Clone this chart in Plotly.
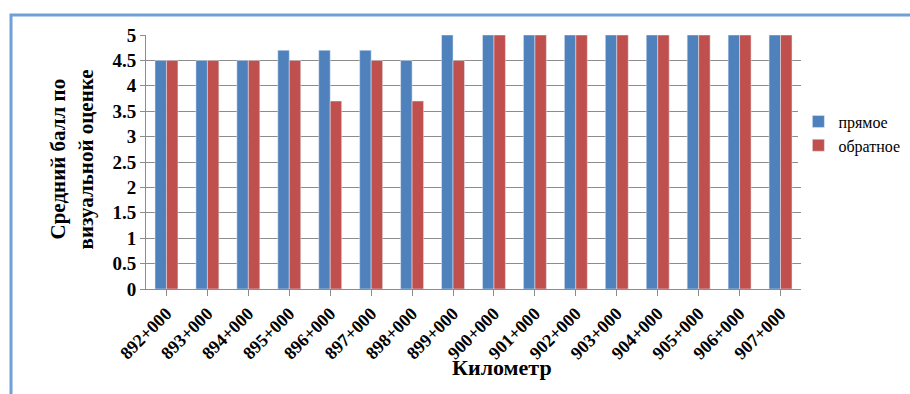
import plotly.graph_objects as go

# Километры участка и средние баллы визуальной оценки по направлениям
km = ["892+000", "893+000", "894+000", "895+000", "896+000", "897+000",
      "898+000", "899+000", "900+000", "901+000", "902+000", "903+000",
      "904+000", "905+000", "906+000", "907+000"]
forward = [4.5, 4.5, 4.5, 4.7, 4.7, 4.7, 4.5, 5, 5, 5, 5, 5, 5, 5, 5, 5]
backward = [4.5, 4.5, 4.5, 4.5, 3.7, 4.5, 3.7, 4.5, 5, 5, 5, 5, 5, 5, 5, 5]
y_ticks = [0, 0.5, 1, 1.5, 2, 2.5, 3, 3.5, 4, 4.5, 5]

FONT = "Times New Roman"
GRID = "#8c8c8c"

fig = go.Figure()
fig.add_trace(go.Bar(x=km, y=forward, name="прямое", marker_color="#4f81bd"))
fig.add_trace(go.Bar(x=km, y=backward, name="обратное", marker_color="#c0504d"))

fig.update_layout(
    width=910, height=394,
    font=dict(family=FONT, color="black"),
    margin=dict(l=146, r=109, t=35, b=105, autoexpand=False),
    paper_bgcolor="white", plot_bgcolor="white",
    barmode="group", bargap=0.44,
    legend=dict(x=0.996, xanchor="left", y=0.612, yanchor="middle",
                font=dict(size=16, family=FONT, color="black")),
    xaxis=dict(
        tickangle=-45, ticks="outside", ticklen=6, tickcolor=GRID,
        showline=True, linecolor=GRID, showgrid=False,
        tickfont=dict(size=18, family=FONT, weight="bold"),
    ),
    yaxis=dict(
        range=[0, 5], tickvals=y_ticks,
        ticks="outside", ticklen=5, tickcolor=GRID,
        showline=True, linecolor=GRID, gridcolor=GRID,
        tickfont=dict(size=19, family=FONT, weight="bold"),
    ),
)

# Рамка области диаграммы
fig.add_shape(type="rect", xref="paper", yref="paper",
              x0=-0.2061, x1=2, y0=-2, y1=1.0787,
              line=dict(color="#6fa1d8", width=3), layer="below")

# Подписи осей
fig.add_annotation(text="Средний балл по", xref="paper", yref="paper",
                   x=-0.1557, y=0.51, textangle=-90, showarrow=False,
                   font=dict(size=21, family=FONT, weight="bold"))
fig.add_annotation(text="визуальной оценке", xref="paper", yref="paper",
                   x=-0.113, y=0.51, textangle=-90, showarrow=False,
                   font=dict(size=21, family=FONT, weight="bold"))
fig.add_annotation(text="Километр", xref="paper", yref="paper",
                   x=0.5435, y=-0.366, showarrow=False,
                   font=dict(size=22, family=FONT, weight="bold"))

fig.write_html("out.html")
